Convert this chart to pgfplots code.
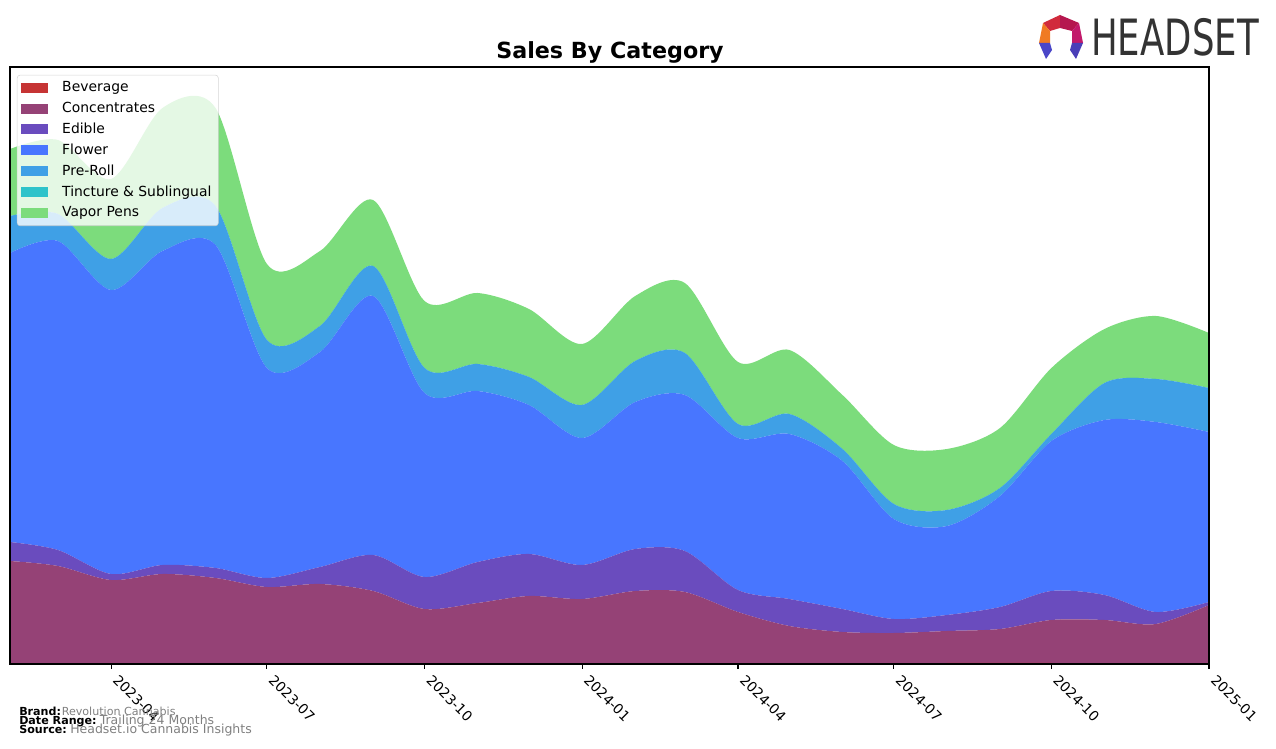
\documentclass[border=0pt]{standalone}
\usepackage{fontspec}
\setmainfont{DejaVu Sans}
\usepackage{pgfplots}
\usepackage{pgfplotstable}
\pgfplotsset{compat=1.18}

\definecolor{cBev}{HTML}{C63434}
\definecolor{cConc}{HTML}{954276}
\definecolor{cEdib}{HTML}{6A4CBE}
\definecolor{cFlow}{HTML}{4876FF}
\definecolor{cPre}{HTML}{3FA0E6}
\definecolor{cTinc}{HTML}{2EC3CA}
\definecolor{cVap}{HTML}{7CDC7C}

% x = days since 2023-02-01, values in chart units
\pgfplotstableread{
d   bev conc edib flow pre tinc vap
0   0 103 19 289 37 0 67
28  0 98  16 309 27 0 74
59  0 84  6  284 31 0 80
89  0 90  9  314 43 0 100
120 0 86  10 323 39 0 98
150 0 77  9  210 28 0 76
181 0 80  17 215 26 0 75
212 0 73  36 259 30 0 66
242 0 55  32 184 25 0 67
273 0 61  41 171 27 0 71
303 0 68  42 149 28 0 68
334 0 65  34 127 33 0 61
365 0 73  42 147 41 0 65
394 0 72  41 156 42 0 70
425 0 52  22 152 14 0 62
455 0 38  27 165 20 0 64
486 0 32  23 148 12 0 54
516 0 31  14 100 15 0 59
547 1 32  16 89  16 0 61
578 1 34  22 111 8  0 60
608 1 43  29 150 7  0 66
639 0 44  25 175 37 0 54
669 0 40  12 190 43 0 63
700 0 59  3  170 44 0 55
}\datatable

\begin{document}
\begin{tikzpicture}
\begin{axis}[
    at={(7.2pt,60.48pt)}, anchor=south west,
    scale only axis,
    width=863.28pt, height=429.84pt,
    xmin=0, xmax=700, ymin=0, ymax=597,
    stack plots=y,
    axis on top,
    axis line style={line width=0.8pt},
    ytick=\empty,
    xtick={59,150,242,334,425,516,608,700},
    xticklabels={2023-04,2023-07,2023-10,2024-01,2024-04,2024-07,2024-10,2025-01},
    xtick pos=lower,
    tick align=outside,
    major tick length=3.5pt,
    xtick style={black, line width=0.8pt},
    xticklabel style={anchor=north west, xshift=6pt, yshift=-2pt, rotate=-45, inner sep=1pt,
        font=\fontsize{10}{12}\selectfont},
    legend cell align=left,
    legend image code/.code={\fill[#1, fill opacity=1, sharp corners] (0pt,-3.6pt) rectangle (19.4pt,3.6pt);},
    legend style={at={(0,1)}, anchor=north west, xshift=5pt, yshift=-5.7pt,
        draw=black!20, rounded corners=2pt, fill=white,
        fill opacity=0.8, draw opacity=0.8, text opacity=1,
        inner xsep=3pt, inner ysep=2pt, column sep=8pt, row sep=1.3pt,
        nodes={inner sep=2pt, text height=7.5pt, text depth=2.3pt},
        font=\fontsize{10}{12}\selectfont},
]
\addplot[fill=cBev, draw=none, smooth] table[x=d, y=bev] {\datatable} \closedcycle;
\addlegendentry{Beverage}
\addplot[fill=cConc, draw=none, smooth] table[x=d, y=conc] {\datatable} \closedcycle;
\addlegendentry{Concentrates}
\addplot[fill=cEdib, draw=none, smooth] table[x=d, y=edib] {\datatable} \closedcycle;
\addlegendentry{Edible}
\addplot[fill=cFlow, draw=none, smooth] table[x=d, y=flow] {\datatable} \closedcycle;
\addlegendentry{Flower}
\addplot[fill=cPre, draw=none, smooth] table[x=d, y=pre] {\datatable} \closedcycle;
\addlegendentry{Pre-Roll}
\addplot[fill=cTinc, draw=none, smooth] table[x=d, y=tinc] {\datatable} \closedcycle;
\addlegendentry{Tincture \& Sublingual}
\addplot[fill=cVap, draw=none, smooth] table[x=d, y=vap] {\datatable} \closedcycle;
\addlegendentry{Vapor Pens}
\end{axis}

% annotations in image pixel coordinates (origin top left)
\begin{scope}[shift={(0pt,538.56pt)}, x=0.72pt, y=-0.72pt]
  \path (0,0) rectangle (1276,748);
  \node[anchor=base, inner sep=0, font=\bfseries\fontsize{16}{19}\selectfont] at (610,59) {Sales By Category};

  \node[anchor=base west, inner sep=0, font=\bfseries\fontsize{8}{9}\selectfont] at (19,715.7) {Brand:};
  \node[anchor=base west, inner sep=0, text=gray, font=\fontsize{8}{9}\selectfont] at (61.5,715.7) {Revolution Cannabis};
  \node[anchor=base west, inner sep=0, font=\bfseries\fontsize{8}{9}\selectfont] at (19,724.7) {Date Range:};
  \node[anchor=base west, inner sep=0, text=gray, font=\fontsize{9}{10}\selectfont] at (99.5,724.7) {Trailing 24 Months};
  \node[anchor=base west, inner sep=0, font=\bfseries\fontsize{8}{9}\selectfont] at (19,733.7) {Source:};
  \node[anchor=base west, inner sep=0, text=gray, font=\fontsize{9}{10}\selectfont] at (70,733.7) {Headset.io Cannabis Insights};

  % logo
  \fill[fill={rgb,255:red,209;green,43;blue,60}] (1043,23) -- (1060,15) -- (1060,28) -- (1050,31) -- cycle;
  \fill[fill={rgb,255:red,181;green,23;blue,79}] (1060,15) -- (1079,23) -- (1072,31) -- (1060,28) -- cycle;
  \fill[fill={rgb,255:red,194;green,26;blue,107}] (1079,23) -- (1083,43) -- (1072,43) -- (1072,31) -- cycle;
  \fill[fill={rgb,255:red,240;green,122;blue,35}] (1043,23) -- (1050,31) -- (1050,43) -- (1039,43) -- cycle;
  \fill[fill={rgb,255:red,74;green,70;blue,200}] (1039,43) -- (1050,43) -- (1052,50) -- (1046,59) -- cycle;
  \fill[fill={rgb,255:red,74;green,63;blue,184}] (1083,43) -- (1072,43) -- (1070,50) -- (1076,59) -- cycle;
  \node[anchor=base west, inner sep=0, text=black!80, font=\fontsize{36}{36}\selectfont] at (1091,56) {\scalebox{0.71}[1]{HEADSET}};
\end{scope}
\end{tikzpicture}
\end{document}
